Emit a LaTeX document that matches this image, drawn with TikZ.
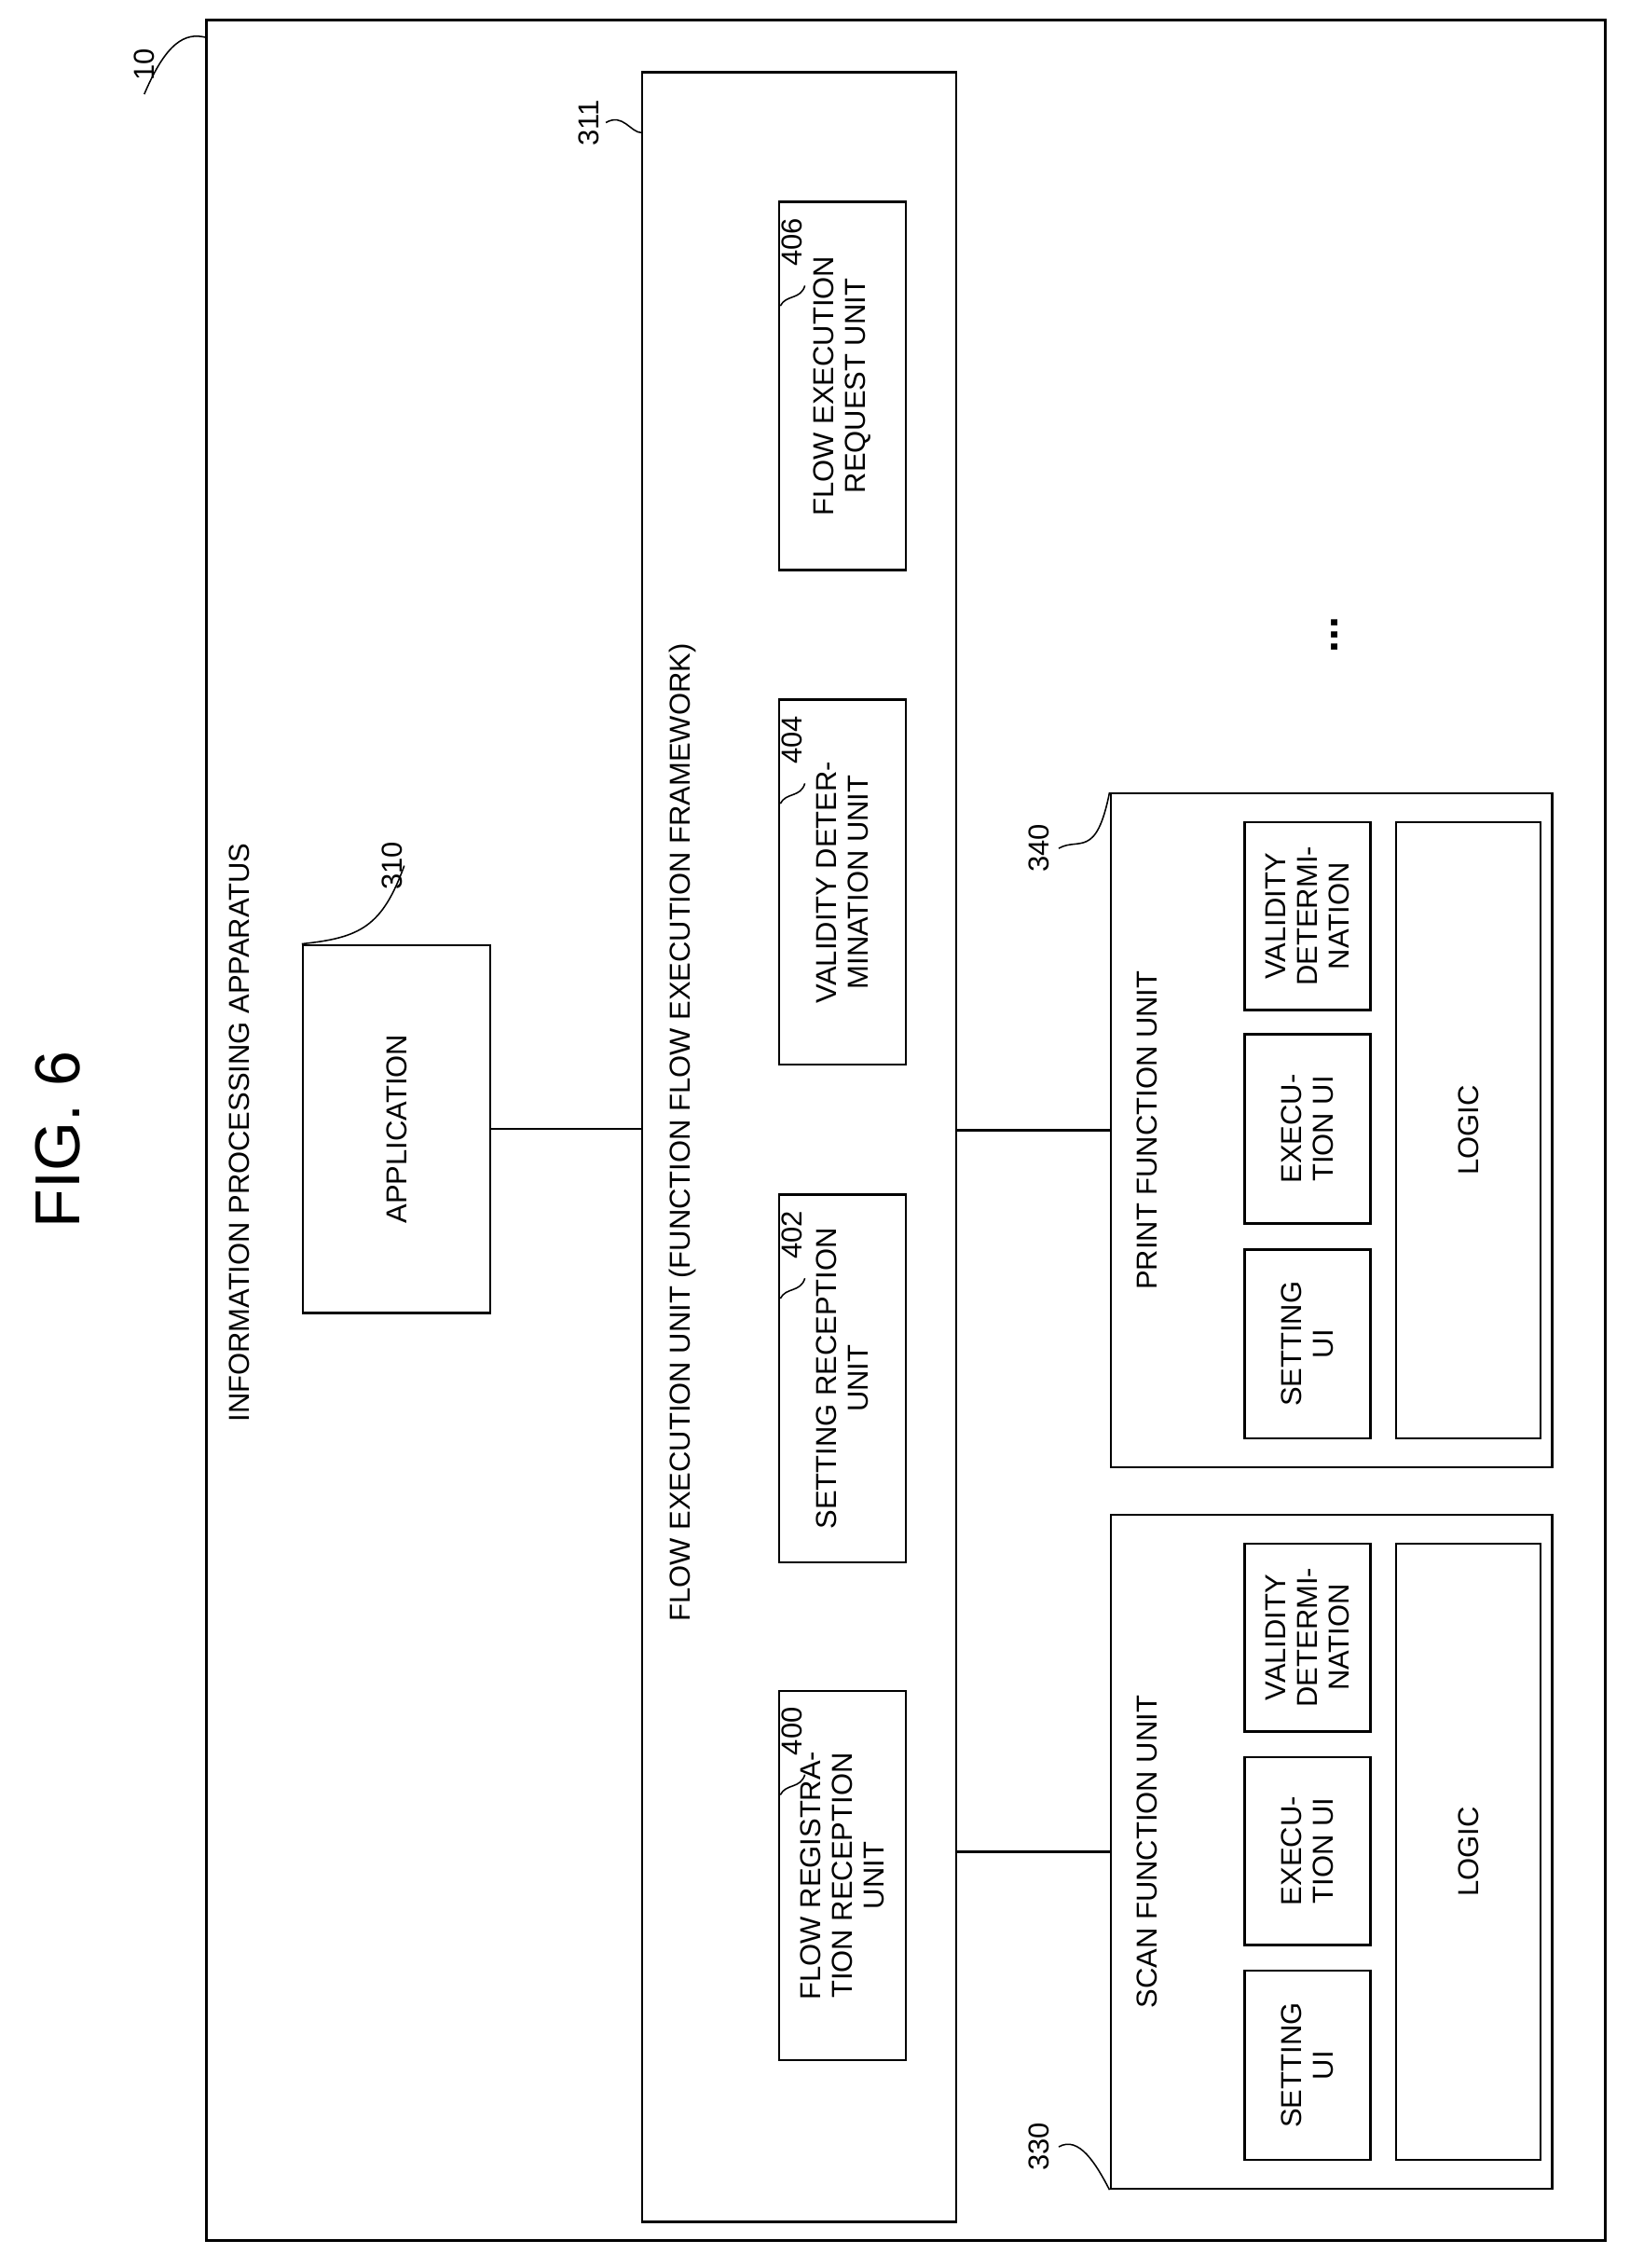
\documentclass[tikz,border=0pt]{standalone}
\usepackage{fontspec}
\setmainfont{Liberation Sans}
\begin{document}
\begin{tikzpicture}[x=1pt,y=-1pt,
  box/.style={draw,line width=1.6pt,rotate=90,inner sep=2pt,align=center,font=\fontsize{20}{22}\selectfont},
  lbl/.style={rotate=90,font=\fontsize{20}{22}\selectfont,inner sep=1pt},
  ln/.style={line width=1.6pt}]
\useasboundingbox (0,0) rectangle (1130,1572);
% outer
\node[box,minimum width=1539,minimum height=970] (outer) at (628,783.5) {};
\node[lbl] (l10) at (100,45) {10};
\coordinate (c10) at (143,26);
\draw[line width=1pt] (l10.west) ++(0,8) .. controls (115,30) and (128,22) .. (c10);
\node[rotate=90,font=\fontsize{44}{48}\selectfont] (fig) at (40,790) {FIG. 6};
\node[lbl] (ipa) at (166,785) {INFORMATION PROCESSING APPARATUS};
% application
\node[box,minimum width=255,minimum height=130] (app) at (275,782.5) {APPLICATION};
\node[lbl] (l310) at (272,600) {310};
\draw[line width=1pt] (l310.south) .. controls (265,642) and (250,650) .. (app.north east);
% framework
\node[box,minimum width=1490,minimum height=218] (fw) at (554,795) {};
\node[lbl] (fwt) at (473,785) {FLOW EXECUTION UNIT (FUNCTION FLOW EXECUTION FRAMEWORK)};
\node[lbl] (l311) at (408,85) {311};
\coordinate (c311) at (445,92);
\draw[line width=1pt] (420,85) .. controls (432,78) and (437,92) .. (c311);
\draw[ln] (app.south) -- (app.south -| fw.north west);
% inner units
\node[box,minimum width=255,minimum height=88] (u406) at (584,267.5) {FLOW EXECUTION\\REQUEST UNIT};
\node[box,minimum width=253,minimum height=88] (u404) at (584,611.5) {VALIDITY DETER-\\MINATION UNIT};
\node[box,minimum width=255,minimum height=88] (u402) at (584,955.5) {SETTING RECEPTION\\UNIT};
\node[box,minimum width=256,minimum height=88] (u400) at (584,1300) {FLOW REGISTRA-\\TION RECEPTION\\UNIT};
\foreach \n/\y in {406/168,404/513,402/856,400/1200}{
  \node[lbl] (l\n) at (549,\y) {\n};
  \draw[line width=1pt] (558,\y+30) .. controls (555,\y+40) and (545,\y+36) .. (541,\y+44);
}
% print
\node[box,minimum width=467,minimum height=306] (print) at (923,783.5) {};
\node[lbl] (pt) at (795,783.5) {PRINT FUNCTION UNIT};
\node[lbl] (l340) at (720,588) {340};
\draw[line width=1pt] (734,588) .. controls (748,580) and (760,596) .. (print.north east);
\node[box,minimum width=131,minimum height=87] (psu) at (906.5,931.5) {SETTING\\UI};
\node[box,minimum width=131,minimum height=87] (peu) at (906.5,782.5) {EXECU-\\TION UI};
\node[box,minimum width=130,minimum height=87] (pvd) at (906.5,635) {VALIDITY\\DETERMI-\\NATION};
\node[box,minimum width=427,minimum height=100] (plg) at (1018,783.5) {LOGIC};
% scan
\node[box,minimum width=467,minimum height=306] (scan) at (923,1283.5) {};
\node[lbl] (st) at (795,1283.5) {SCAN FUNCTION UNIT};
\node[lbl] (l330) at (720,1488) {330};
\draw[line width=1pt] (734,1488) .. controls (748,1480) and (760,1500) .. (scan.north west);
\node[box,minimum width=131,minimum height=87] (ssu) at (906.5,1431.5) {SETTING\\UI};
\node[box,minimum width=130,minimum height=87] (seu) at (906.5,1283) {EXECU-\\TION UI};
\node[box,minimum width=130,minimum height=87] (svd) at (906.5,1135) {VALIDITY\\DETERMI-\\NATION};
\node[box,minimum width=427,minimum height=100] (slg) at (1018,1283.5) {LOGIC};
% connectors
\draw[ln] (print.north -| fw.south) -- (print.north);
\draw[ln] (scan.north -| fw.south) -- (scan.north);
% dots
\node[rotate=90,font=\fontsize{30}{30}\selectfont\bfseries] (dots) at (925,440) {...};
\end{tikzpicture}
\end{document}
